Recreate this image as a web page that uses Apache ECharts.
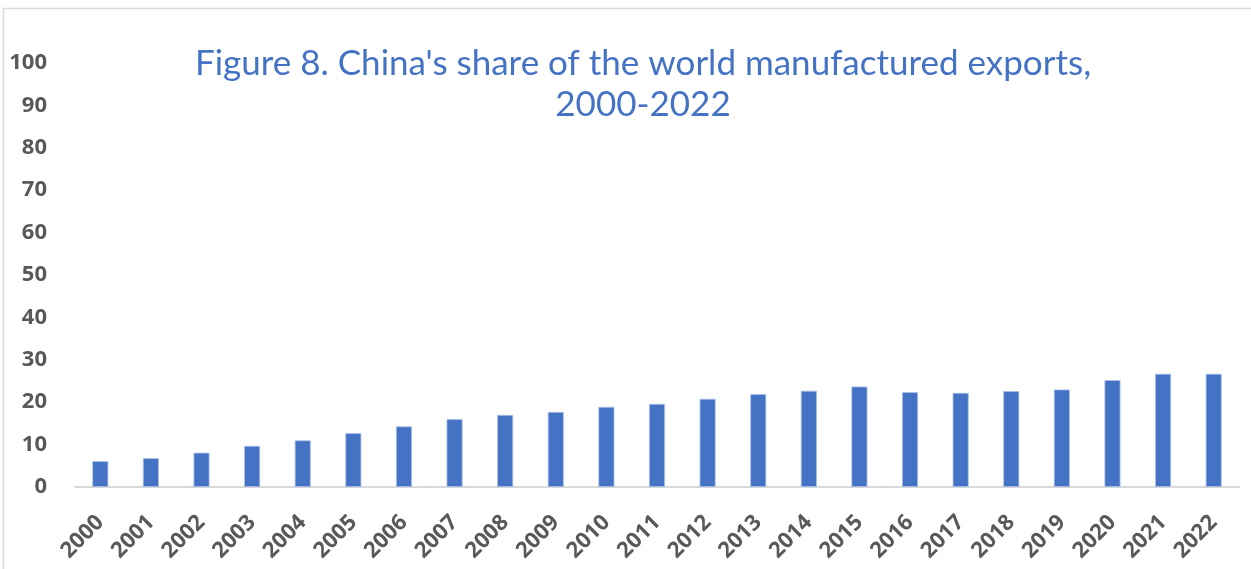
<!DOCTYPE html>
<html>
<head>
<meta charset="utf-8">
<script src="https://cdn.jsdelivr.net/npm/echarts@6/dist/echarts.min.js"></script>
<style>
  html, body { margin: 0; padding: 0; background: #fff; }
  #chart { width: 1251px; height: 569px; }
</style>
</head>
<body>
<div id="chart"></div>
<script>
// data
let years = ['2000', '2001', '2002', '2003', '2004', '2005', '2006', '2007', '2008', '2009', '2010', '2011',
  '2012', '2013', '2014', '2015', '2016', '2017', '2018', '2019', '2020', '2021', '2022'];
let shares = [6.1, 6.8, 8.1, 9.7, 11.0, 12.7, 14.3, 16.0, 17.0, 17.7, 18.9, 19.6,
  20.8, 21.9, 22.7, 23.7, 22.4, 22.2, 22.6, 23.0, 25.2, 26.7, 26.7];
let yTicks = [0, 10, 20, 30, 40, 50, 60, 70, 80, 90, 100];

let chart = echarts.init(document.getElementById('chart'));

let option = {
  animation: false,
  title: {
    text: "Figure 8. China's share of the world manufactured exports,\n2000-2022",
    left: 638,
    top: 38,
    textAlign: 'center',
    textStyle: {
      color: '#4472C4',
      fontFamily: 'Lato',
      fontWeight: 'normal',
      fontSize: 35,
      lineHeight: 41
    }
  },
  graphic: [{
    type: 'rect',
    shape: { x: 3.5, y: 8.5, width: 1300, height: 700 },
    style: { fill: 'none', stroke: '#d9d9d9', lineWidth: 1.5 },
    silent: true,
    z: -1
  }],
  grid: {
    left: 75,
    right: 12,
    top: 63,
    bottom: 82
  },
  xAxis: {
    type: 'category',
    data: years,
    axisLine: { lineStyle: { color: '#d9d9d9', width: 2 } },
    axisTick: { show: false },
    axisLabel: {
      rotate: 45,
      interval: 0,
      margin: 32,
      color: '#595959',
      fontWeight: 'bold',
      fontSize: 22,
      fontFamily: 'Open Sans'
    }
  },
  yAxis: {
    type: 'value',
    min: yTicks[0],
    max: yTicks[yTicks.length - 1],
    interval: 10,
    splitLine: { show: false },
    axisLine: { show: false },
    axisTick: { show: false },
    axisLabel: {
      margin: 28,
      color: '#595959',
      fontWeight: 'bold',
      fontSize: 22,
      fontFamily: 'Open Sans'
    }
  },
  series: [{
    type: 'bar',
    data: shares,
    barWidth: 16,
    itemStyle: {
      color: '#4472C4',
      borderColor: '#A9C0E8',
      borderWidth: 0.8
    }
  }]
};

chart.setOption(option);
</script>
</body>
</html>
